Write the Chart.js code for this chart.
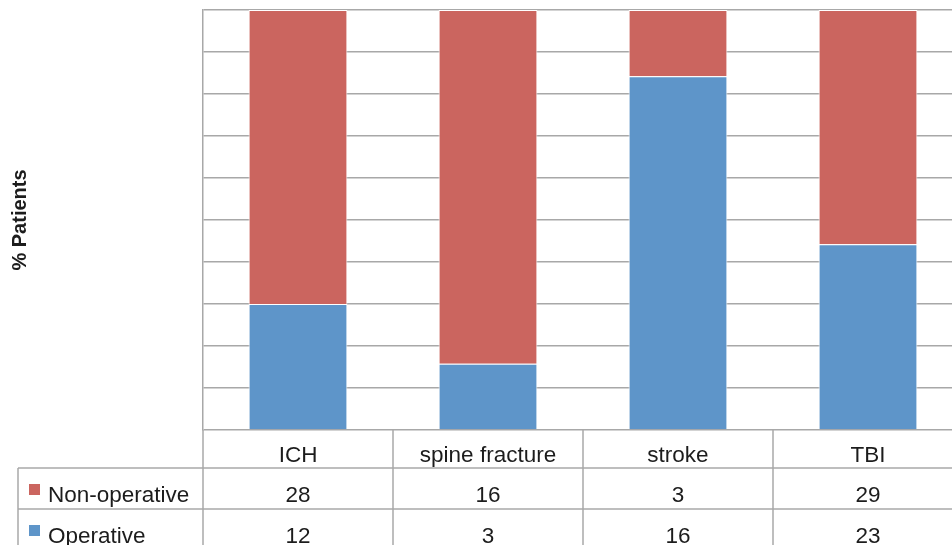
<!DOCTYPE html>
<html>
<head>
<meta charset="utf-8">
<script src="https://cdn.jsdelivr.net/npm/chart.js@4/dist/chart.umd.min.js"></script>
<style>
  html, body { margin: 0; padding: 0; background: #fff; overflow: hidden; }
  #wrap { width: 952px; height: 545px; overflow: hidden; position: relative; }
  canvas { position: absolute; left: 0; top: 0; }
</style>
</head>
<body>
<div id="wrap"><canvas id="c" width="963" height="545"></canvas></div>
<script>
// ---- data ----
const categories = ['ICH', 'spine fracture', 'stroke', 'TBI'];
const nonOperative = [28, 16, 3, 29];
const operative = [12, 3, 16, 23];
const seriesNames = ['Non-operative', 'Operative'];
const yAxisTitle = '% Patients';

const RED = '#cb655f';
const BLUE = '#5e95c9';
const GRID = '#a8a8a8';
const TEXT = '#1c1c1c';
const FONT = '"Liberation Sans", Arial, sans-serif';

// 100% stacked: share of each category's total
const totals = categories.map((_, i) => nonOperative[i] + operative[i]);
const opPct = operative.map((v, i) => v / totals[i] * 100);
const nonPct = nonOperative.map((v, i) => v / totals[i] * 100);

const dataTablePlugin = {
  id: 'dataTable',
  afterDraw(chart) {
    const ctx = chart.ctx;
    const x = chart.scales.x;
    const area = chart.chartArea;
    const n = categories.length;
    const catW = (x.getPixelForValue(1) - x.getPixelForValue(0));
    const rowTops = [area.bottom, 468, 509, 549];
    const legendLeft = 18;
    const right = chart.width;

    ctx.save();
    ctx.strokeStyle = GRID;
    ctx.lineWidth = 1.5;
    // horizontal rules of the table
    for (let r = 1; r < rowTops.length; r++) {
      ctx.beginPath();
      ctx.moveTo(legendLeft, rowTops[r]);
      ctx.lineTo(right, rowTops[r]);
      ctx.stroke();
    }
    // vertical rules: column boundaries
    for (let i = 0; i < n; i++) {
      const bx = x.getPixelForValue(i) - catW / 2;
      ctx.beginPath();
      ctx.moveTo(bx, area.bottom);
      ctx.lineTo(bx, chart.height);
      ctx.stroke();
    }
    // legend column left edge
    ctx.beginPath();
    ctx.moveTo(legendLeft, rowTops[1]);
    ctx.lineTo(legendLeft, chart.height);
    ctx.stroke();

    // rows: series legend key + values
    const rows = [
      { name: seriesNames[0], color: RED, values: nonOperative },
      { name: seriesNames[1], color: BLUE, values: operative }
    ];
    ctx.font = '22.5px ' + FONT;
    ctx.textBaseline = 'alphabetic';
    rows.forEach((row, r) => {
      const baseline = rowTops[r + 1] + 34;
      ctx.fillStyle = row.color;
      ctx.fillRect(29, baseline - 18, 11, 11);
      ctx.fillStyle = TEXT;
      ctx.textAlign = 'left';
      ctx.fillText(row.name, 48, baseline);
      ctx.textAlign = 'center';
      row.values.forEach((v, i) => {
        ctx.fillText(String(v), x.getPixelForValue(i), baseline);
      });
    });
    ctx.restore();
  }
};

new Chart(document.getElementById('c'), {
  type: 'bar',
  data: {
    labels: categories,
    datasets: [
      { label: seriesNames[1], data: opPct, backgroundColor: BLUE, borderColor: '#ffffff', borderWidth: 1 },
      { label: seriesNames[0], data: nonPct, backgroundColor: RED, borderColor: '#ffffff', borderWidth: 1 }
    ]
  },
  options: {
    responsive: false,
    animation: false,
    devicePixelRatio: 1,
    layout: { padding: { top: 10, left: 0, right: 0, bottom: 0 } },
    plugins: { legend: { display: false }, tooltip: { enabled: false } },
    datasets: { bar: { barPercentage: 0.52, categoryPercentage: 1.0 } },
    scales: {
      x: {
        stacked: true,
        grid: { display: false, drawTicks: false },
        border: { display: false },
        ticks: { color: TEXT, font: { family: FONT, size: 22.5 }, padding: 12, maxRotation: 0, autoSkip: false },
        afterFit(scale) { scale.height = 115; }
      },
      y: {
        stacked: true,
        min: 0,
        max: 100,
        ticks: { display: false, stepSize: 10 },
        grid: { color: GRID, lineWidth: 1.5, drawTicks: false },
        border: { display: true, color: GRID, width: 1.5 },
        title: {
          display: true,
          text: yAxisTitle,
          color: TEXT,
          font: { family: FONT, size: 20, weight: 'bold' },
          padding: { top: 8, bottom: 0 }
        },
        afterFit(scale) { scale.width = 203; }
      }
    }
  },
  plugins: [dataTablePlugin]
});
</script>
</body>
</html>
